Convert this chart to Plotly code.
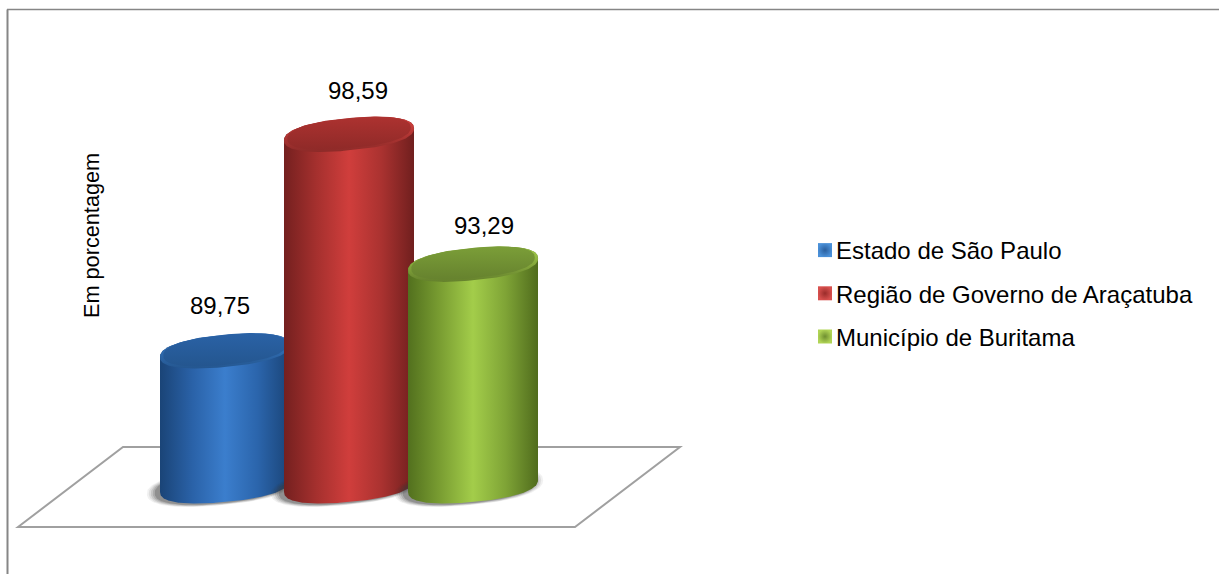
import numpy as np
import plotly.graph_objects as go

categories = ["Estado de São Paulo", "Região de Governo de Araçatuba", "Município de Buritama"]
values = [89.75, 98.59, 93.29]
value_labels = ["89,75", "98,59", "93,29"]
axis_title = "Em porcentagem"

BODY = [
    ["#1a4477", "#2a62a8", "#3b7ecd", "#2b65ac", "#1a4477"],
    ["#74201f", "#a5302e", "#d03e3c", "#aa3230", "#701f1e"],
    ["#52701e", "#7a9e32", "#a3cd4a", "#7fa436", "#506c1d"],
]
RIM = [("#24568f", "#3a80d0"), ("#8c2a28", "#d8423f"), ("#64802c", "#a6d04c")]
CAP = [("#24568f", "#2a62a6"), ("#8f2a28", "#ad3230"), ("#66822e", "#7b9e38")]
SWATCH = [("#4a90d8", "#2a5f9e"), ("#d8504e", "#9a2c2a"), ("#b0d455", "#6f8f30")]

BASE = 84.24
W, H = 1219, 574
X0_PX, X_STEP = 225.0, 124.0
Y0_PX, Y_STEP = 486.0, 24.5   # pixel of BASE, pixels per unit
A = 65.0 / X_STEP
B = 16.0 / Y_STEP
TILT = 6.0 / Y_STEP
P = 0.85

xr = [-X0_PX / X_STEP, (W - X0_PX) / X_STEP]
yr = [BASE - (H - Y0_PX) / Y_STEP, BASE + Y0_PX / Y_STEP]


def ellipse(cx, cy, k=1.0, dx=0.0, dy=0.0, t0=0.0, t1=2 * np.pi, n=160):
    t = np.linspace(t0, t1, n)
    c = np.sign(np.cos(t)) * np.abs(np.cos(t)) ** P
    s = np.sign(np.sin(t)) * np.abs(np.sin(t)) ** P
    return (cx + dx + k * A * c, cy + dy + k * (B * s + TILT * c))


def scale(cols):
    return [[i / (len(cols) - 1), c] for i, c in enumerate(cols)]


fig = go.Figure()

for i, (name, v) in enumerate(zip(categories, values)):
    # legend swatch (hidden under the cylinder in the plot)
    fig.add_trace(go.Scatter(
        x=[i], y=[v], mode="markers", name=name, legendgroup=name, showlegend=True,
        marker=dict(symbol="square", size=14, color=SWATCH[i][0],
                    gradient=dict(type="radial", color=SWATCH[i][1]),
                    line=dict(width=0)),
        hoverinfo="skip"))

for i, v in enumerate(values):
    # soft floor shadow
    for k, op in [(1.14, 0.07), (1.11, 0.10), (1.08, 0.14), (1.05, 0.18), (1.02, 0.25)]:
        x, y = ellipse(i, BASE, k=k, dx=-4 / X_STEP, dy=-1 / Y_STEP)
        fig.add_trace(go.Scatter(x=x, y=y, mode="lines", fill="toself", showlegend=False,
                                 fillcolor=f"rgba(60,60,60,{op})", line=dict(width=0),
                                 hoverinfo="skip"))
    # body
    xb, yb = ellipse(i, BASE, t0=np.pi, t1=2 * np.pi)
    xt, yt = ellipse(i, v, t0=0, t1=np.pi)
    fig.add_trace(go.Scatter(
        x=np.r_[xb, xt], y=np.r_[yb, yt], mode="lines", fill="toself", showlegend=False,
        line=dict(width=0),
        fillgradient=dict(type="horizontal", colorscale=scale(BODY[i])),
        hoverinfo="skip"))
    # cap rim
    x, y = ellipse(i, v)
    fig.add_trace(go.Scatter(x=x, y=y, mode="lines", fill="toself", showlegend=False,
                             line=dict(width=0),
                             fillgradient=dict(type="vertical", colorscale=scale(RIM[i])),
                             hoverinfo="skip"))
    # cap top
    x, y = ellipse(i, v, k=0.95, dy=1.2 / Y_STEP)
    fig.add_trace(go.Scatter(
        x=x, y=y, mode="lines", fill="toself", showlegend=False, line=dict(width=0),
        fillgradient=dict(type="vertical", colorscale=scale(CAP[i])),
        hoverinfo="skip"))

label_shift = [(-5, 46), (9, 44), (11, 39)]
ann = [dict(x=i, y=v, xref="x", yref="y", text=t, showarrow=False, xshift=s[0], yshift=s[1],
            font=dict(family="Liberation Sans", size=24, color="#000000"))
       for i, (v, t, s) in enumerate(zip(values, value_labels, label_shift))]
ann.append(dict(x=92 / W, y=1 - 236 / H, xref="paper", yref="paper", text=axis_title, showarrow=False,
                textangle=-90, xanchor="center", yanchor="middle",
                font=dict(family="Liberation Sans", size=21.7, color="#000000")))


def px(xp, yp):
    return xp / W, 1 - yp / H


fl = [px(18, 527), px(123, 447), px(680, 447), px(575, 527)]
path = "M " + " L ".join(f"{a:.5f},{b:.5f}" for a, b in fl) + " Z"
shapes = [
    dict(type="path", xref="paper", yref="paper", path=path, layer="below",
         line=dict(color="#a0a0a0", width=2), fillcolor="#ffffff"),
    dict(type="line", xref="paper", yref="paper", x0=7.5 / W, x1=7.5 / W, y0=0, y1=1 - 9.5 / H,
         layer="below", line=dict(color="#868686", width=2)),
    dict(type="line", xref="paper", yref="paper", x0=7 / W, x1=1, y0=1 - 9.5 / H, y1=1 - 9.5 / H,
         layer="below", line=dict(color="#868686", width=1.5)),
]

fig.update_layout(
    width=W, height=H, margin=dict(l=0, r=0, t=0, b=0, pad=0, autoexpand=False),
    paper_bgcolor="#ffffff", plot_bgcolor="rgba(0,0,0,0)",
    xaxis=dict(range=xr, visible=False, fixedrange=True),
    yaxis=dict(range=yr, visible=False, fixedrange=True),
    shapes=shapes, annotations=ann,
    hovermode=False,
    legend=dict(x=796 / W, y=1 - 228 / H, xanchor="left", yanchor="top",
                traceorder="grouped", tracegroupgap=9, itemwidth=30,
                font=dict(family="Liberation Sans", size=24, color="#000000"),
                bgcolor="rgba(0,0,0,0)", borderwidth=0),
)

fig.write_html("out.html", config=dict(displayModeBar=False),
               post_script="document.body.style.margin='0';document.body.style.overflow='hidden';"
                           "document.documentElement.style.overflow='hidden';"
                           "(function(){var f=function(){document.querySelectorAll('.legendpoints')"
                           ".forEach(function(e){e.setAttribute('transform','translate(9,0)');});};"
                           "f();setTimeout(f,50);setTimeout(f,300);})();")
